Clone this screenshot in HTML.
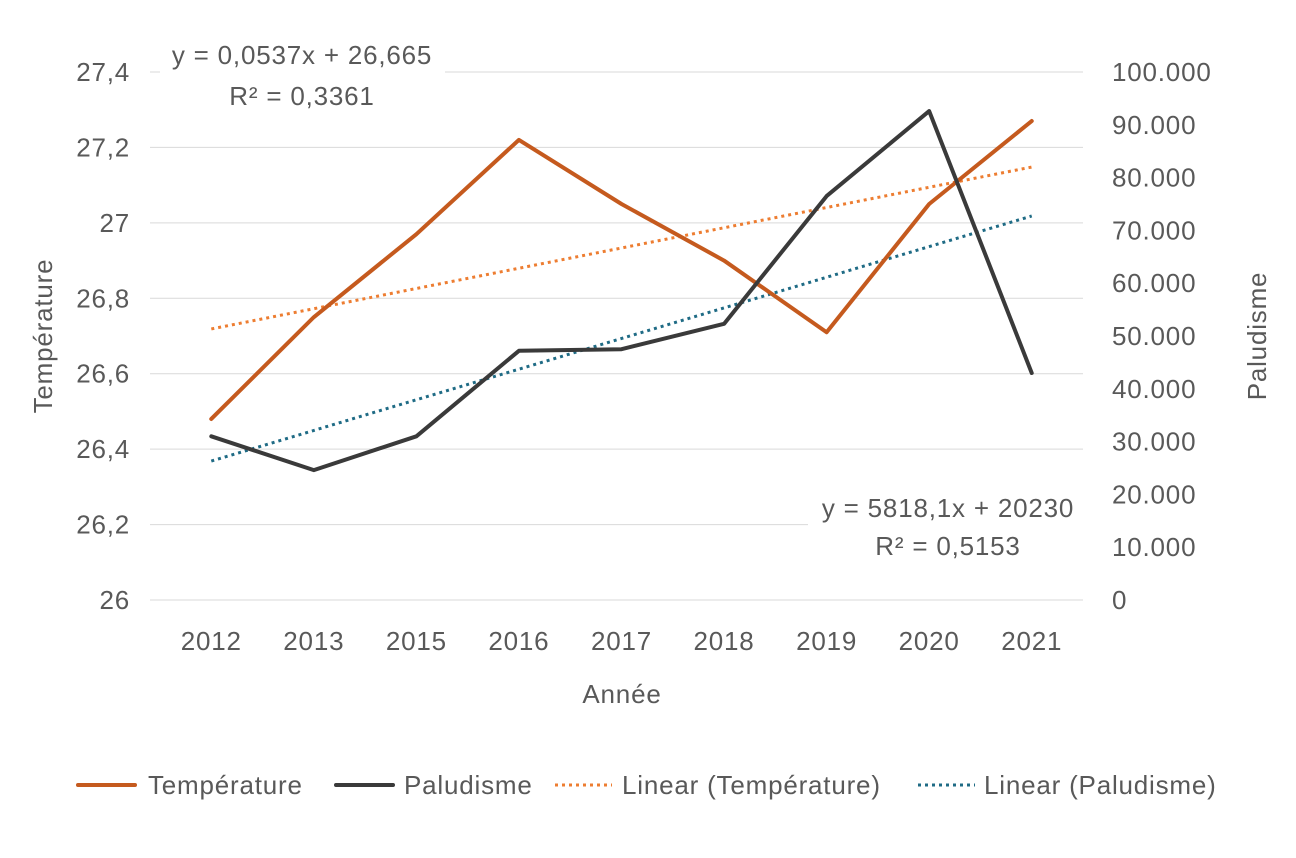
<!DOCTYPE html>
<html><head><meta charset="utf-8"><style>
body{margin:0;background:#fff;}
svg text{font-family:"Liberation Sans",sans-serif;fill:#595959;letter-spacing:0.8px;}
</style></head><body>
<svg id="chart" width="1296" height="853" xmlns="http://www.w3.org/2000/svg"></svg>
<script>
const categories=["2012","2013","2015","2016","2017","2018","2019","2020","2021"];
const temperature=[26.48,26.75,26.97,27.22,27.05,26.90,26.71,27.05,27.27];
const paludisme=[31000,24600,31000,47200,47500,52300,76500,92600,43000];
const leftTicks=["26","26,2","26,4","26,6","26,8","27","27,2","27,4"];
const leftTickVals=[26,26.2,26.4,26.6,26.8,27,27.2,27.4];
const rightTicks=["0","10.000","20.000","30.000","40.000","50.000","60.000","70.000","80.000","90.000","100.000"];
const rightTickVals=[0,10000,20000,30000,40000,50000,60000,70000,80000,90000,100000];

const svg=document.getElementById('chart');
const NS='http://www.w3.org/2000/svg';
const L=160,R=1083,T=72,B=600;
const step=(R-L)/categories.length;
const x=i=>L+step*(i+0.5);
const yL=v=>B-(v-26)/1.4*(B-T);
const yR=v=>B-v/100000*(B-T);
function mk(tag,a,p){const e=document.createElementNS(NS,tag);for(const k in a)e.setAttribute(k,a[k]);(p||svg).appendChild(e);return e;}
function txt(s,a){const e=mk('text',a);e.textContent=s;return e;}
const FS=26;

leftTickVals.forEach((v,i)=>{
  const g=mk('line',{x1:150,x2:R,y1:yL(v),y2:yL(v),stroke:'#d9d9d9','stroke-width':1});
  
  
  const t=txt(leftTicks[i],{x:130,y:yL(v)+9,'text-anchor':'end','font-size':FS});
  
  
});
rightTickVals.forEach((v,i)=>{
  const t=txt(rightTicks[i],{x:1112,y:yR(v)+9,'font-size':FS});
  
  
});
categories.forEach((c,i)=>{
  const t=txt(c,{x:x(i),y:650,'text-anchor':'middle','font-size':FS});
  
  
});
let t=txt('Année',{x:622,y:703,'text-anchor':'middle','font-size':FS});

t=txt('Température',{x:0,y:0,'text-anchor':'middle','font-size':FS,transform:'translate(52,336) rotate(-90)'});

t=txt('Paludisme',{x:0,y:0,'text-anchor':'middle','font-size':FS,transform:'translate(1266,336) rotate(-90)'});


function fit(vals){const n=vals.length;let sx=0,sy=0,sxy=0,sxx=0;vals.forEach((v,i)=>{const k=i+1;sx+=k;sy+=v;sxy+=k*v;sxx+=k*k;});const m=(n*sxy-sx*sy)/(n*sxx-sx*sx);return [m,(sy-m*sx)/n];}
const ft=fit(temperature),fp=fit(paludisme);
let tl=mk('line',{x1:x(0),y1:yL(ft[1]+ft[0]),x2:x(8),y2:yL(ft[1]+9*ft[0]),stroke:'#ed7d31','stroke-width':3,'stroke-dasharray':'3 4'});

tl=mk('line',{x1:x(0),y1:yR(fp[1]+fp[0]),x2:x(8),y2:yR(fp[1]+9*fp[0]),stroke:'#1f6b85','stroke-width':3,'stroke-dasharray':'3 4'});


let p=mk('polyline',{points:temperature.map((v,i)=>x(i)+','+yL(v)).join(' '),fill:'none',stroke:'#c55a1e','stroke-width':4,'stroke-linejoin':'round','stroke-linecap':'round'});

p=mk('polyline',{points:paludisme.map((v,i)=>x(i)+','+yR(v)).join(' '),fill:'none',stroke:'#3a3a3a','stroke-width':4,'stroke-linejoin':'round','stroke-linecap':'round'});


let r=mk('rect',{x:160,y:30,width:285,height:90,fill:'#fff'});

t=txt('y = 0,0537x + 26,665',{x:302,y:64,'text-anchor':'middle','font-size':FS});

t=txt('R² = 0,3361',{x:302,y:105,'text-anchor':'middle','font-size':FS});

r=mk('rect',{x:808,y:485,width:277,height:85,fill:'#fff'});

t=txt('y = 5818,1x + 20230',{x:948,y:517,'text-anchor':'middle','font-size':FS});

t=txt('R² = 0,5153',{x:948,y:555,'text-anchor':'middle','font-size':FS});


const legend=[["Température",'#c55a1e',false,78,148],["Paludisme",'#3a3a3a',false,336,404],["Linear (Température)",'#ed7d31',true,555,622],["Linear (Paludisme)",'#1f6b85',true,918,984]];
legend.forEach(l=>{
  const g=mk('g',{});
  
  
  const a={x1:l[3],x2:l[3]+57,y1:785,y2:785,stroke:l[1],'stroke-width':l[2]?3:4,'stroke-linecap':l[2]?'butt':'round'};
  if(l[2])a['stroke-dasharray']='3 4';
  mk('line',a,g);
  const tt=mk('text',{x:l[4],y:794,'font-size':FS},g);tt.textContent=l[0];
});
</script>
</body></html>
